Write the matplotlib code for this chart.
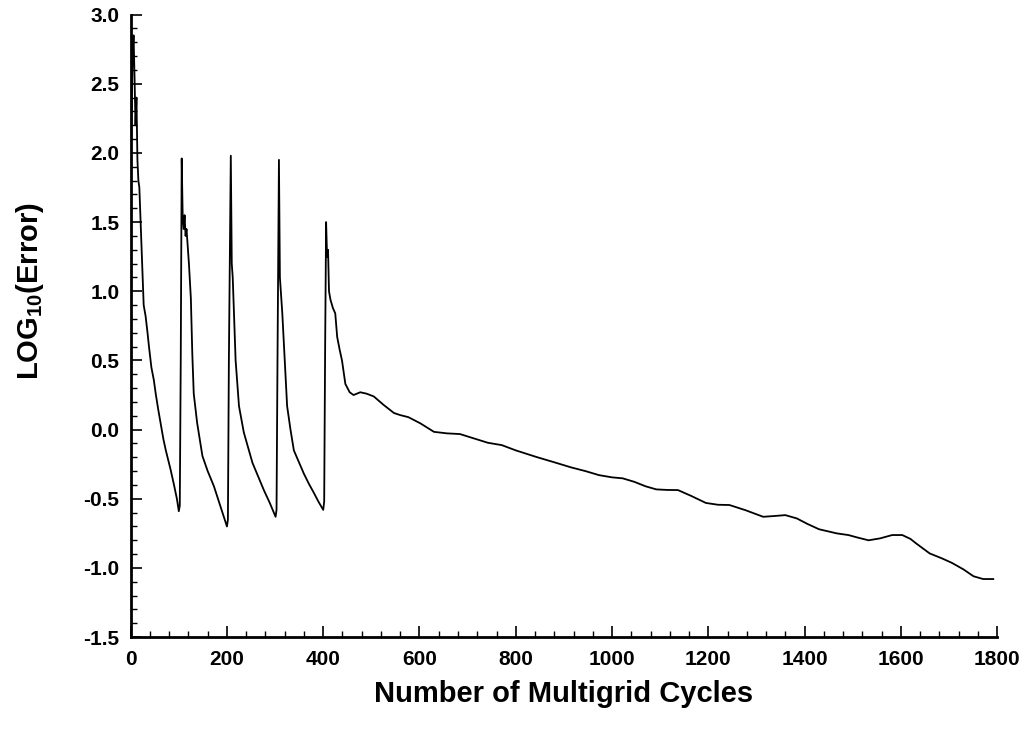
import matplotlib
matplotlib.use('Agg')
import matplotlib.pyplot as plt
from matplotlib.ticker import MultipleLocator, FormatStrFormatter

# convergence history
cycles = [0, 2, 4, 6, 8, 10, 12, 14, 16, 18, 21, 24, 27, 31, 35, 38, 43, 48, 52, 57,
          62, 68, 73, 78, 83, 90, 96, 100,
          102, 104, 106, 108, 110, 112, 114, 116, 118, 121, 125, 128, 131, 138, 149,
          160, 173, 186, 200,
          202, 204, 208, 210, 212, 214, 218, 225, 235, 253, 265, 277, 289, 301,
          303, 305, 308, 310, 312, 315, 320, 325, 332, 339, 350, 360, 370, 381, 390, 400,
          402, 404, 406, 408, 410, 412, 415, 420, 425, 429, 434, 439, 446, 455, 463, 477,
          490, 505, 525, 547, 560, 577, 602, 630, 657, 684, 710, 742, 771, 800, 845,
          880, 915, 945, 973, 1000, 1022, 1046, 1070, 1092, 1115, 1137, 1165, 1195,
          1220, 1244, 1277, 1314, 1335, 1360, 1384, 1405, 1430, 1467, 1491, 1510,
          1533, 1557, 1582, 1603, 1620, 1632, 1660, 1685, 1706, 1730, 1751, 1771, 1792]
log_error = [1.90, 2.30, 2.70, 2.85, 2.55, 2.20, 2.40, 1.95, 1.80, 1.75, 1.46, 1.15, 0.90, 0.82,
             0.70, 0.60, 0.45, 0.36, 0.26, 0.15, 0.05, -0.07, -0.15, -0.22, -0.29,
             -0.40, -0.50, -0.59,
             -0.55, 0.50, 1.96, 1.55, 1.45, 1.55, 1.40, 1.45, 1.35, 1.20, 0.95, 0.55, 0.26,
             0.05, -0.19, -0.30, -0.41, -0.55, -0.70,
             -0.65, 0.50, 1.98, 1.20, 1.10, 0.90, 0.50, 0.17, -0.02, -0.24, -0.34, -0.44,
             -0.53, -0.63,
             -0.58, 0.50, 1.95, 1.10, 1.00, 0.84, 0.50, 0.17, 0.00, -0.15, -0.24, -0.32,
             -0.39, -0.46, -0.52, -0.58,
             -0.52, 0.60, 1.50, 1.25, 1.30, 1.00, 0.94, 0.88, 0.84, 0.67, 0.58, 0.50, 0.33,
             0.27, 0.25, 0.27, 0.26, 0.24, 0.18, 0.12, 0.105, 0.09, 0.045, -0.016,
             -0.027, -0.032, -0.06, -0.095, -0.112, -0.15, -0.20, -0.236, -0.273, -0.30,
             -0.329, -0.345, -0.352, -0.377, -0.41, -0.432, -0.436, -0.437, -0.48, -0.53,
             -0.543, -0.545, -0.582, -0.63, -0.625, -0.618, -0.642, -0.68, -0.72, -0.75,
             -0.762, -0.78, -0.80, -0.786, -0.762, -0.762, -0.79, -0.823, -0.895, -0.93,
             -0.963, -1.01, -1.06, -1.08, -1.08]

plt.rcParams['font.family'] = ['Liberation Sans', 'DejaVu Sans']
plt.rcParams['font.weight'] = 'bold'
plt.rcParams['mathtext.default'] = 'regular'

fig = plt.figure(figsize=(10.29, 7.29), dpi=100)
ax = fig.add_axes([0.127, 0.126, 0.842, 0.854])

ax.plot(cycles, log_error, color='black', linewidth=1.3)

ax.set_xlim(0, 1800)
ax.set_ylim(-1.5, 3.0)
ax.xaxis.set_major_locator(MultipleLocator(200))
ax.xaxis.set_minor_locator(MultipleLocator(40))
ax.yaxis.set_major_locator(MultipleLocator(0.5))
ax.yaxis.set_minor_locator(MultipleLocator(0.1))
ax.yaxis.set_major_formatter(FormatStrFormatter('%.1f'))

for side in ['top', 'right']:
    ax.spines[side].set_visible(False)
for side in ['left', 'bottom']:
    ax.spines[side].set_linewidth(2.0)

ax.tick_params(which='major', direction='in', length=8, width=1.2, labelsize=15)
ax.tick_params(which='minor', direction='in', length=4.5, width=1.0)
ax.tick_params(axis='x', which='major', pad=9)
ax.tick_params(axis='y', which='major', pad=8)

ax.set_xlabel('Number of Multigrid Cycles', fontsize=21, fontweight='bold', labelpad=8)
ax.set_ylabel('LOG$_{10}$(Error)', fontsize=21, fontweight='bold')
ax.yaxis.set_label_coords(-0.098, 0.556)

fig.savefig('out.png', dpi=100)
